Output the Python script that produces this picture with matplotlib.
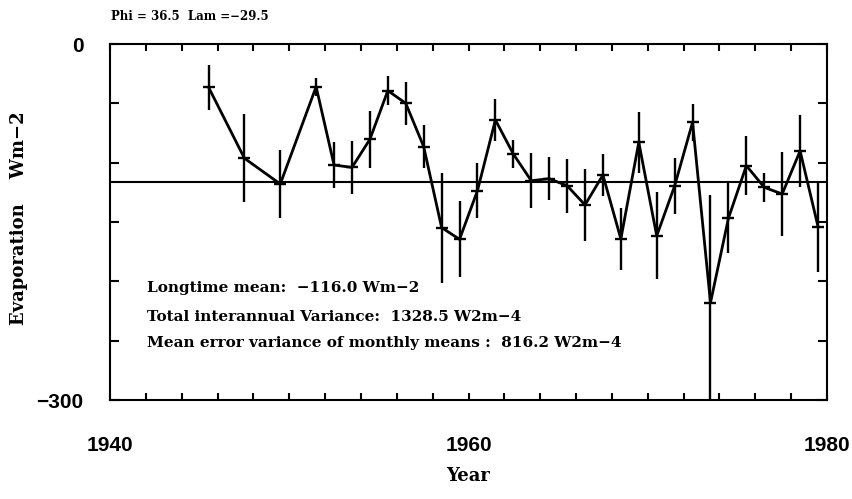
import numpy as np
import matplotlib
matplotlib.use('Agg')
import matplotlib.pyplot as plt

# yearly means of evaporation (Wm-2) and their error bars
years = np.array([1945, 1947, 1949, 1951, 1952, 1953, 1954, 1955, 1956, 1957,
                  1958, 1959, 1960, 1961, 1962, 1963, 1964, 1965, 1966, 1967,
                  1968, 1969, 1970, 1971, 1972, 1973, 1974, 1975, 1976, 1977,
                  1978, 1979])
evap = np.array([-36.5, -96.3, -118.0, -36.0, -102.0, -104.0, -80.3, -39.3, -50.0, -86.5,
                 -154.7, -164.6, -123.6, -64.0, -92.7, -115.2, -113.5, -119.4, -135.6, -110.4,
                 -164.3, -82.8, -161.7, -119.6, -66.0, -218.0, -146.9, -102.5, -120.8, -126.4,
                 -90.1, -153.9])
err = np.array([19.0, 37.0, 28.5, 7.7, 19.7, 22.0, 23.9, 12.2, 18.3, 18.3,
                46.3, 31.9, 23.2, 17.6, 11.5, 23.2, 18.0, 22.6, 30.2, 17.3,
                26.4, 25.7, 36.6, 23.9, 15.7, 90.7, 29.5, 24.9, 12.4, 35.1,
                30.2, 37.9])
longtime_mean = -116.0
total_var = 1328.5
err_var = 816.2

xtick_pos = list(range(1940, 1981, 2))
xtick_lab = ['1940' if y == 1940 else '1960' if y == 1960 else '1980' if y == 1980 else '' for y in xtick_pos]
ytick_pos = [0, -50, -100, -150, -200, -250, -300]
ytick_lab = ['0', '', '', '', '', '', '\u2212300']

serif = ['DejaVu Serif']
sans = 'Liberation Sans'

fig = plt.figure(figsize=(8.53, 4.99), dpi=100)
ax = fig.add_axes([110/853, 99/499, 717/853, 356/499])

ax.errorbar(years + 0.5, evap, yerr=err, fmt='-', color='black', lw=2,
            elinewidth=1.7, capsize=0, marker='_', markersize=9, mew=1.7)
ax.axhline(longtime_mean, color='black', lw=1.5)

ax.set_xlim(1940, 1980)
ax.set_ylim(-300, 0)
ax.set_xticks(xtick_pos)
ax.set_xticklabels(xtick_lab)
ax.set_yticks(ytick_pos)
ax.set_yticklabels(ytick_lab)
ax.tick_params(axis='x', direction='in', top=True, length=5, width=1.5, pad=26)
ax.tick_params(axis='y', direction='in', right=True, length=6.5, width=1.5, pad=19)
for lab in ax.get_xticklabels() + ax.get_yticklabels():
    lab.set_fontfamily(sans)
    lab.set_fontweight('bold')
    lab.set_fontsize(15)
for s in ax.spines.values():
    s.set_linewidth(1.5)

ax.set_xlabel('Year', fontfamily=serif, fontweight='bold', fontsize=13)
ax.xaxis.set_label_coords(0.499, -0.187)
ax.set_ylabel('Evaporation    Wm\u22122', fontfamily=serif, fontweight='bold', fontsize=13)
ax.yaxis.set_label_coords(-0.114, 0.511)

txt = dict(transform=ax.transAxes, fontfamily=serif, fontweight='bold', fontsize=11, va='center')
ax.text(0.0516, 0.315, 'Longtime mean:  \u2212%.1f Wm\u22122' % abs(longtime_mean), **txt)
ax.text(0.0516, 0.234, 'Total interannual Variance:  %.1f W2m\u22124' % total_var, **txt)
ax.text(0.0516, 0.160, 'Mean error variance of monthly means :  %.1f W2m\u22124' % err_var, **txt)

fig.text(111/853, 1 - 17/499, 'Phi = 36.5  Lam =\u221229.5', fontfamily=serif,
         fontweight='bold', fontsize=8.5, va='center')

fig.savefig('out.png', dpi=100)
